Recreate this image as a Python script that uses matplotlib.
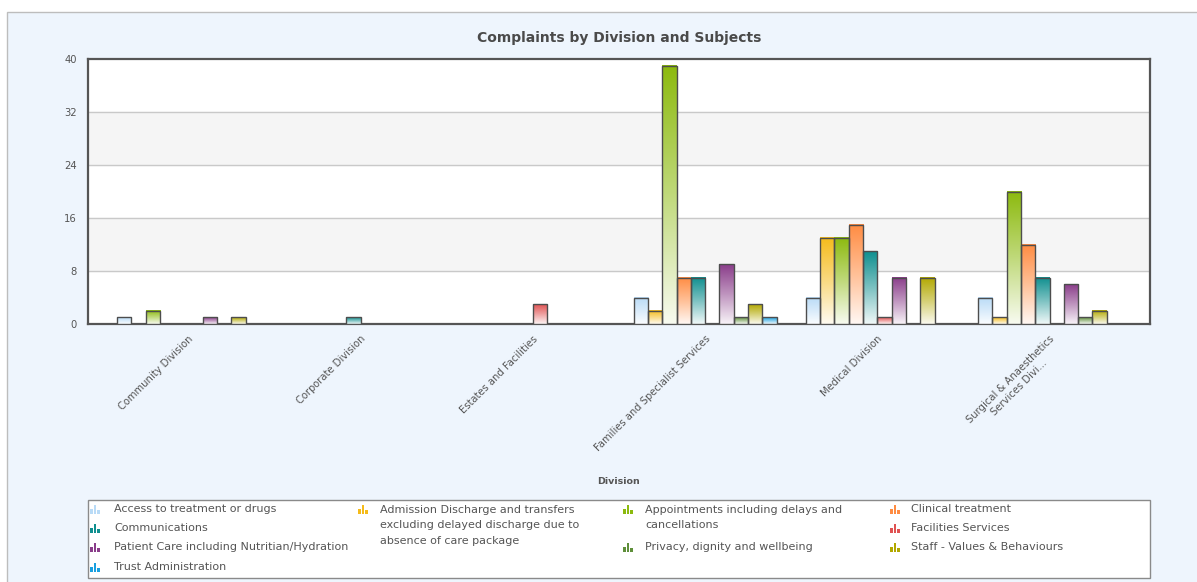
import numpy as np
import matplotlib
matplotlib.use("Agg")
import matplotlib.pyplot as plt
from matplotlib.colors import LinearSegmentedColormap, to_rgb
from matplotlib.patches import Rectangle

divisions = ["Community Division", "Corporate Division", "Estates and Facilities",
             "Families and Specialist Services", "Medical Division",
             "Surgical & Anaesthetics\nServices Divi..."]

subjects = ["Access to treatment or drugs",
            "Admission Discharge and transfers\nexcluding delayed discharge due to\nabsence of care package",
            "Appointments including delays and\ncancellations",
            "Clinical treatment",
            "Communications",
            "Facilities Services",
            "Patient Care including Nutritian/Hydration",
            "Privacy, dignity and wellbeing",
            "Staff - Values & Behaviours",
            "Trust Administration"]

colors = ["#b9dbf7", "#f5bb1a", "#8cba0e", "#ff8c42", "#0f8f8f",
          "#e05252", "#8a3d8a", "#5f8f3a", "#b2a800", "#1aa0e0"]

# complaints per division, one list per subject
access        = [1, 0, 0, 4, 4, 4]
admission     = [0, 0, 0, 2, 13, 1]
appointments  = [2, 0, 0, 39, 13, 20]
clinical      = [0, 0, 0, 7, 15, 12]
communication = [0, 1, 0, 7, 11, 7]
facilities    = [0, 0, 3, 0, 1, 0]
patient_care  = [1, 0, 0, 9, 7, 6]
privacy       = [0, 0, 0, 1, 0, 1]
staff         = [1, 0, 0, 3, 7, 2]
trust_admin   = [0, 0, 0, 1, 0, 0]

series = [access, admission, appointments, clinical, communication,
          facilities, patient_care, privacy, staff, trust_admin]

yticks = [0, 8, 16, 24, 32, 40]

W, H = 1197, 582
fig = plt.figure(figsize=(W / 100, H / 100), dpi=100)
fig.patch.set_facecolor("white")

# page canvas in pixel coordinates
bg = fig.add_axes([0, 0, 1, 1])
bg.set_xlim(0, W)
bg.set_ylim(H, 0)
bg.axis("off")
bg.add_patch(Rectangle((7, 12), W + 10, H, facecolor="#eef5fd",
                       edgecolor="#bdbdbd", linewidth=1.0))

ax = fig.add_axes([88 / W, (H - 324) / H, (1150 - 88) / W, (324 - 59) / H])
ax.set_facecolor("white")

for lo in (8, 24):
    ax.axhspan(lo, lo + 8, color="#f5f5f5", zorder=0)
for t in yticks[1:-1]:
    ax.axhline(t, color="#c9c9c9", linewidth=1.0, zorder=1)

bw = 0.083
xg = np.arange(len(divisions))
grad = np.linspace(0, 1, 256).reshape(-1, 1)
for i, (vals, col) in enumerate(zip(series, colors)):
    vals = np.asarray(vals, dtype=float)
    keep = vals > 0
    xs = xg[keep] + (i - 4.5) * bw
    bars = ax.bar(xs, vals[keep], width=bw, facecolor="none",
                  edgecolor="#4d4d4d", linewidth=1.0, zorder=4)
    c = np.array(to_rgb(col))
    cmap = LinearSegmentedColormap.from_list(
        "g%d" % i, [c * 0.06 + 0.94, c * 0.55 + 0.45, c])
    for p in bars:
        x0, h = p.get_x(), p.get_height()
        ax.imshow(grad, cmap=cmap, origin="lower", aspect="auto",
                  extent=[x0, x0 + p.get_width(), 0, h], zorder=3,
                  interpolation="bilinear")

ax.set_xlim(-0.583, len(divisions) - 1 + 0.583)
ax.set_ylim(0, 40)
ax.set_yticks(yticks)
ax.set_yticklabels([str(t) for t in yticks], fontsize=7.2, color="#555555")
ax.set_xticks(xg)
ax.set_xticklabels(divisions, rotation=45, ha="right", va="top",
                   rotation_mode="anchor", fontsize=7.2, color="#555555",
                   multialignment="center")
ax.tick_params(axis="both", length=0)
ax.tick_params(axis="y", pad=8)
ax.tick_params(axis="x", pad=7)
for s in ax.spines.values():
    s.set_color("#555555")
    s.set_linewidth(1.6)

fig.text(619.5 / W, 1 - 38 / H, "Complaints by Division and Subjects",
         ha="center", va="center", fontsize=10, fontweight="bold",
         color="#4a4a4a")
fig.text(618 / W, 1 - 481 / H, "Division", ha="center", va="center",
         fontsize=6.8, fontweight="bold", color="#555555")

# legend box
bg.add_patch(Rectangle((88, 500), 1150 - 88, 78, facecolor="white",
                       edgecolor="#8a8a8a", linewidth=1.0, zorder=2))
icon_x = [90, 358, 623, 890]
text_x = [114, 380, 645, 911]
slots = [(0, 509), (1, 509), (2, 509), (3, 509),
         (0, 528), (3, 528),
         (0, 547), (2, 547), (3, 547),
         (0, 567)]
for (colx, yy), name, col in zip(slots, subjects, colors):
    ix = icon_x[colx]
    for dx, hh in zip((0, 3.5, 7), (5, 9, 4)):
        bg.add_patch(Rectangle((ix + dx, yy + 5 - hh), 2.5, hh,
                               facecolor=col, edgecolor="none", zorder=3))
    if "\n" in name:
        bg.text(text_x[colx], yy - 4, name, ha="left", va="top",
                fontsize=8, color="#555555", linespacing=1.68, zorder=3)
    else:
        bg.text(text_x[colx], yy, name, ha="left", va="center",
                fontsize=8, color="#555555", zorder=3)

fig.savefig("out.png", dpi=100, facecolor=fig.get_facecolor())
